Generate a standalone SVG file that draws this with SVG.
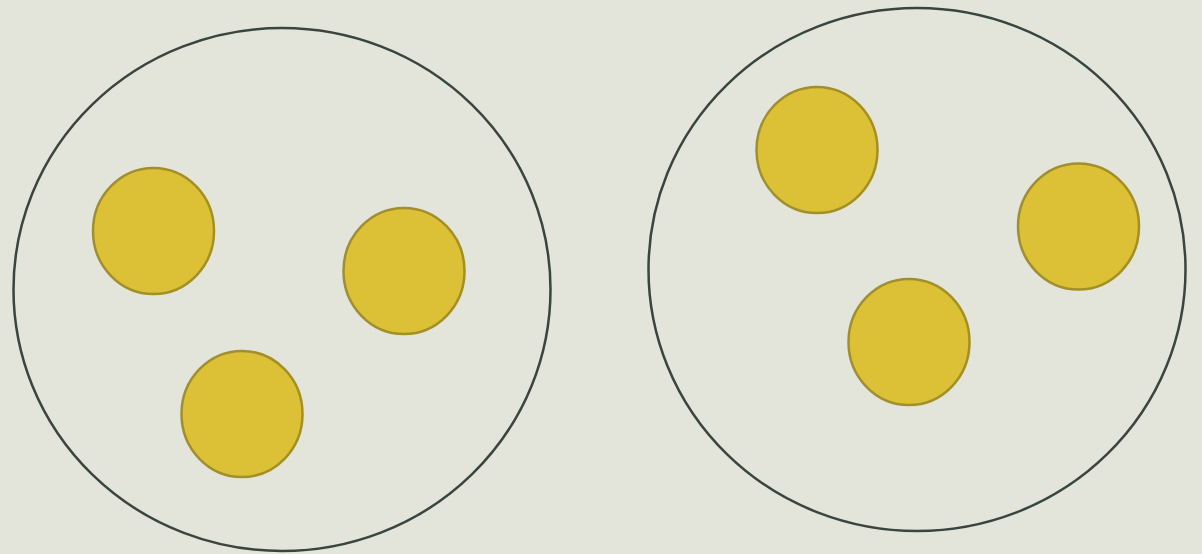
<svg xmlns="http://www.w3.org/2000/svg" width="1202" height="554" viewBox="0 0 1202 554">
<style>
.set{fill:none;stroke:#3a4540;stroke-width:2.5}
.el{fill:#dcc136;stroke:#a28f2a;stroke-width:2.5}
</style>
<rect width="1202" height="554" fill="#e3e5da"/>
<g id="setA"><ellipse class="set" cx="282" cy="289.5" rx="268.5" ry="261.5"/></g>
<g id="setB"><ellipse class="set" cx="917" cy="269.5" rx="268.5" ry="261.5"/></g>
<g id="a1"><ellipse class="el" cx="153.5" cy="231" rx="60.5" ry="63"/></g>
<g id="a2"><ellipse class="el" cx="404" cy="271" rx="60.5" ry="63"/></g>
<g id="a3"><ellipse class="el" cx="242" cy="414" rx="60.5" ry="63"/></g>
<g id="b1"><ellipse class="el" cx="817" cy="150" rx="60.5" ry="63"/></g>
<g id="b2"><ellipse class="el" cx="1078.5" cy="226.5" rx="60.5" ry="63"/></g>
<g id="b3"><ellipse class="el" cx="909" cy="342" rx="60.5" ry="63"/></g>
<g id="connectors"/>
</svg>
